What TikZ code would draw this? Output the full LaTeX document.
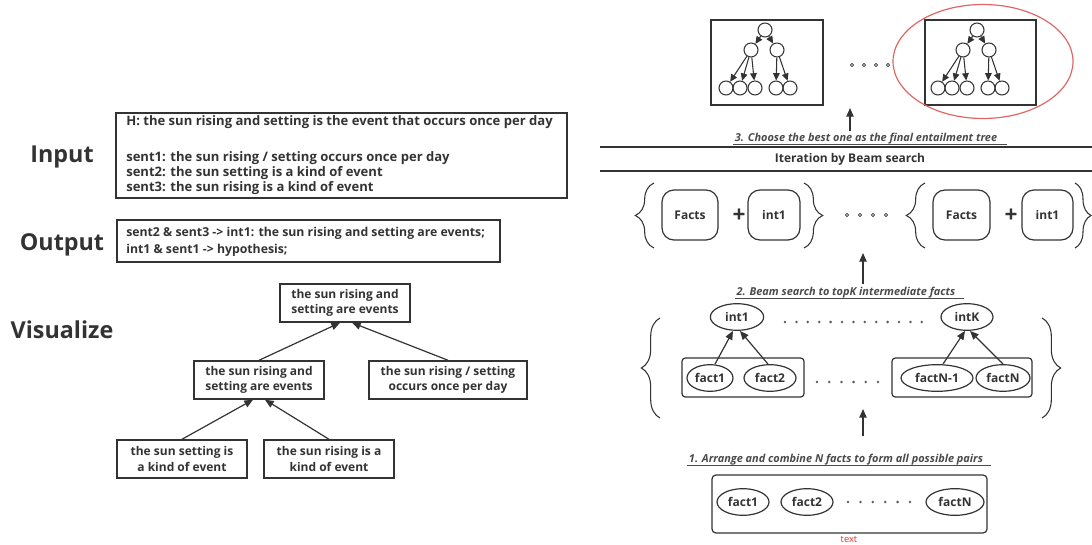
\documentclass[tikz,border=0pt]{standalone}
\usepackage{fontspec}
\setmainfont{Open Sans}
\usetikzlibrary{arrows.meta,shapes.geometric,decorations.pathreplacing}
\definecolor{ink}{HTML}{333333}
\definecolor{stepc}{HTML}{4A4A4A}
\definecolor{redc}{HTML}{E06666}
\definecolor{redt}{HTML}{E03030}
\newcommand\minitree[3]{%
  \begin{scope}[shift={(#1,#2)}]
    \node[circ] (#3r) at (0,0) {};
    \node[circ] (#3a) at (-14,20) {};
    \node[circ] (#3b) at (12,20) {};
    \node[circ] (#3l1) at (-39,58) {};
    \node[circ] (#3l2) at (-25,58) {};
    \node[circ] (#3l3) at (-10,58) {};
    \node[circ] (#3l4) at (11,58) {};
    \node[circ] (#3l5) at (25,58) {};
    \draw[sarr] (#3r) -- (#3a);
    \draw[sarr] (#3r) -- (#3b);
    \draw[sarr] (#3a) -- (#3l1);
    \draw[sarr] (#3a) -- (#3l2);
    \draw[sarr] (#3a) -- (#3l3);
    \draw[sarr] (#3b) -- (#3l4);
    \draw[sarr] (#3b) -- (#3l5);
  \end{scope}}
\begin{document}
\begin{tikzpicture}[x=0.75pt,y=-0.75pt,
  every node/.style={text=ink, font=\bfseries\fontsize{9}{11.6}\selectfont},
  tb/.style={draw=ink, line width=1.1pt, align=center, minimum height=28.5pt, inner sep=2pt},
  big/.style={font=\bfseries\fontsize{17.5}{19}\selectfont},
  arr/.style={draw=ink, line width=0.9pt, -{Triangle[length=6.5pt,width=5.5pt]}},
  sarr/.style={draw=ink, line width=0.8pt, -{Triangle[length=5.5pt,width=5pt]}},
  ell/.style={draw=ink, ellipse, inner sep=0pt, line width=0.9pt, minimum height=20pt},
  rbox/.style={draw=ink, rounded corners=9pt, line width=0.9pt, minimum height=37.5pt, inner sep=0pt},
  sbox/.style={draw=ink, rounded corners=2.5pt, line width=0.9pt, inner sep=0pt},
  circ/.style={draw=ink, circle, minimum size=10.5pt, inner sep=0pt, line width=0.8pt},
  steptext/.style={text=stepc, font=\bfseries\itshape\fontsize{8.2}{10}\selectfont, inner sep=1pt},
  lbrace/.style={draw=ink, line width=0.8pt, decorate, decoration={brace, amplitude=#1}},
  hdot/.style={draw=ink, line width=0.5pt},
  fdot/.style={fill=ink!80},
  boxtext/.style={anchor=west, align=left, inner sep=0pt, font=\bfseries\fontsize{9.8}{12.2}\selectfont},
]
\useasboundingbox (0,0) rectangle (1092,545);

% ---------------- left part ----------------
\node[big] (lin) at (62,157) {Input};
\node[big] (lout) at (62,245) {Output};
\node[big] (lvis) at (62,330) {Visualize};

\node[draw=ink, line width=1.1pt, minimum width=338.25pt, minimum height=63.75pt] (inbox) at (341.5,155.5) {};
\node[boxtext] (inH) at (126,122) {H: the sun rising and setting is the event that occurs once per day};
\node[boxtext] (in1) at (126,158) {sent1: the sun rising / setting occurs once per day};
\node[boxtext] (in2) at (126,173) {sent2: the sun setting is a kind of event};
\node[boxtext] (in3) at (126,188) {sent3: the sun rising is a kind of event};

\node[draw=ink, line width=1.1pt, minimum width=287.25pt, minimum height=31.5pt] (outbox) at (308.5,241) {};
\node[boxtext, font=\bfseries\fontsize{9.2}{13}\selectfont] (outtext) at (126,241.5)
 {sent2 \& sent3 -> int1: the sun rising and setting are events;\\
  int1 \& sent1 -> hypothesis;};

\node[tb, minimum width=97.5pt] (t0) at (345,303) {the sun rising and\\setting are events};
\node[tb, minimum width=97.5pt] (t1) at (259,380) {the sun rising and\\setting are events};
\node[tb, minimum width=118.5pt] (t2) at (448,380) {the sun rising / setting\\occurs once per day};
\node[tb, minimum width=97.5pt] (t3) at (182,459) {the sun setting is\\a kind of event};
\node[tb, minimum width=97.5pt] (t4) at (329,459) {the sun rising is a\\kind of event};
\draw[arr] (t1.north) -- ([xshift=-3.75pt]t0.south);
\draw[arr] (t2.north) -- ([xshift=5.25pt]t0.south);
\draw[arr] (t3.north) -- ([xshift=-4.5pt]t1.south);
\draw[arr] (t4.north) -- ([xshift=4.5pt]t1.south);

% ---------------- right part: top ----------------
\node[draw=ink, line width=1.1pt, minimum width=84pt, minimum height=63.75pt] (tree1) at (767,62.5) {};
\node[draw=ink, line width=1.1pt, minimum width=83.25pt, minimum height=63.75pt] (tree2) at (980.5,62.5) {};
\minitree{765}{30}{ta}
\minitree{977}{30}{tc}
\node[draw=redc, line width=0.9pt, ellipse, minimum width=135pt, minimum height=85.5pt] (best) at (983,61.5) {};
\foreach \x in {852,864,876,888} \draw[hdot] (\x,65) circle (1.6);

\node[steptext] (s3) at (866,139) {3. Choose the best one as the final entailment tree};
\draw[line width=0.6pt, stepc] ([yshift=1pt]s3.south west) -- ([xshift=6pt,yshift=1pt]s3.south east);
\coordinate (a3s) at (850,131);
\coordinate (a3e) at (850,108);
\draw[arr] (a3s) -- (a3e);

\coordinate (h1a) at (600,147); \coordinate (h1b) at (1092,147);
\coordinate (h2a) at (600,171); \coordinate (h2b) at (1092,171);
\draw[ink, line width=1.1pt] (h1a) -- (h1b);
\draw[ink, line width=1.1pt] (h2a) -- (h2b);
\node (iter) at (850,159) {Iteration by Beam search};

% ---------------- braces row ----------------
\draw[lbrace=14pt] (654,248) -- (654,183);
\node[rbox, minimum width=42pt] (facts1) at (690,215) {Facts};
\node[font=\bfseries\fontsize{17}{17}\selectfont] (plus1) at (739,216) {+};
\node[rbox, minimum width=39pt] (int1a) at (774,215) {int1};
\draw[lbrace=14pt] (804,183) -- (804,248);
\foreach \x in {847,860,873,886} \draw[hdot] (\x,215) circle (1.6);
\draw[lbrace=14pt] (925,248) -- (925,183);
\node[rbox, minimum width=42.75pt] (facts2) at (961.5,215) {Facts};
\node[font=\bfseries\fontsize{17}{17}\selectfont] (plus2) at (1011,216) {+};
\node[rbox, minimum width=38.25pt] (int1b) at (1047.5,215) {int1};
\draw[lbrace=12pt] (1075,183) -- (1075,248);

\coordinate (a2s) at (863,284);
\coordinate (a2e) at (863,253);
\draw[arr] (a2s) -- (a2e);

% ---------------- step 2 ----------------
\node[steptext] (s2) at (846,293) {2. Beam search to topK intermediate facts};
\draw[line width=0.6pt, stepc] ([yshift=1pt]s2.south west) -- ([xshift=5pt,yshift=1pt]s2.south east);

\node[ell, minimum width=40pt] (i1) at (737,317) {int1};
\node[ell, minimum width=39pt] (iK) at (967,317) {intK};
\foreach \i in {0,...,12} \fill[fdot] (785+\i*11.4,322) circle (1.4);

\draw[lbrace=14pt] (660,418) -- (660,318);
\draw[lbrace=14pt] (1042,318) -- (1042,418);

\node[sbox, minimum width=91.5pt, minimum height=29.25pt] (pairA) at (743,377.5) {};
\node[sbox, minimum width=105pt, minimum height=29.25pt] (pairB) at (962,377.5) {};
\node[ell, minimum width=34.5pt] (pf1) at (710,378) {fact1};
\node[ell, minimum width=39pt] (pf2) at (770,378) {fact2};
\node[ell, minimum width=54pt] (pfNm) at (937,378) {factN-1};
\node[ell, minimum width=40.5pt] (pfN) at (1003,378) {factN};
\foreach \i in {0,...,5} \fill[fdot] (817+\i*12.2,382) circle (1.4);
\draw[arr] ([xshift=3.75pt]pf1.north) -- ([xshift=-3pt]i1.south);
\draw[arr] ([xshift=-1.5pt]pf2.north) -- ([xshift=2.25pt]i1.south);
\draw[arr] ([xshift=4.5pt]pfNm.north) -- ([xshift=-1.5pt]iK.south);
\draw[arr] (pfN.north) -- ([xshift=2.25pt]iK.south);

\coordinate (a1s) at (863,436);
\coordinate (a1e) at (863,409);
\draw[arr] (a1s) -- (a1e);

% ---------------- step 1 ----------------
\node[steptext] (s1) at (836,460) {1. Arrange and combine N facts to form all possible pairs};
\draw[line width=0.6pt, stepc] ([yshift=1pt]s1.south west) -- ([xshift=5pt,yshift=1pt]s1.south east);

\node[sbox, minimum width=206.25pt, minimum height=43.5pt, rounded corners=3pt] (allbox) at (849.5,504) {};
\node[ell, minimum width=39pt] (bf1) at (743,502) {fact1};
\node[ell, minimum width=39pt] (bf2) at (807,502) {fact2};
\node[ell, minimum width=43.5pt] (bfN) at (955,502) {factN};
\foreach \i in {0,...,5} \fill[fdot] (848+\i*12.4,502) circle (1.4);
\node[text=redt, font=\fontsize{7}{8}\selectfont, inner sep=0pt] (lbl) at (849,539) {text};
\end{tikzpicture}
\end{document}
